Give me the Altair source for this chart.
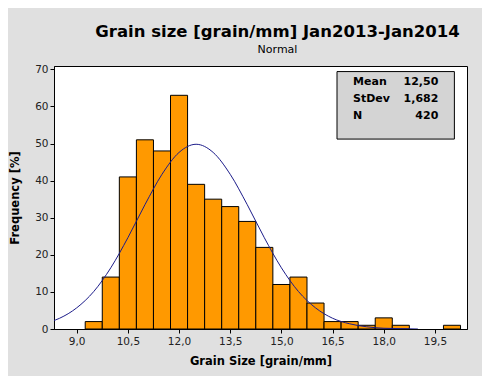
import altair as alt
import pandas as pd

# Histogram bins (centres, width 0.5) and counts
bin_centers = [9.5, 10.0, 10.5, 11.0, 11.5, 12.0, 12.5, 13.0, 13.5, 14.0, 14.5,
               15.0, 15.5, 16.0, 16.5, 17.0, 17.5, 18.0, 18.5, 19.0, 19.5, 20.0]
counts = [2, 14, 41, 51, 48, 63, 39, 35, 33, 29, 22,
          12, 14, 7, 2, 2, 1, 3, 1, 0, 0, 1]

# Fitted normal curve
curve_x = [8.0, 8.5, 9.0, 9.5, 10.0, 10.5, 11.0, 11.5, 12.0, 12.5, 13.0, 13.5,
           14.0, 14.5, 15.0, 15.5, 16.0, 16.5, 17.0, 17.5, 18.0, 18.5, 19.0]
curve_y = [1.4, 2.9, 5.7, 10.1, 16.5, 24.6, 33.5, 41.7, 47.6, 49.8, 47.6, 41.7,
           33.5, 24.6, 16.5, 10.1, 5.7, 2.9, 1.4, 0.6, 0.2, 0.1, 0.0]

x_ticks = [9.0, 10.5, 12.0, 13.5, 15.0, 16.5, 18.0, 19.5]
y_ticks = [0, 10, 20, 30, 40, 50, 60, 70]

stat_names = ["Mean", "StDev", "N"]
stat_values = ["12,50", "1,682", "420"]

FONT = "DejaVu Sans"
XDOM = [8.335, 20.44]
YDOM = [0, 70.9]

bars_df = pd.DataFrame({"center": bin_centers, "count": counts})
bars_df = bars_df[bars_df["count"] > 0]
curve_df = pd.DataFrame({"x": curve_x, "y": curve_y})

xscale = alt.Scale(domain=XDOM, nice=False, zero=False)
yscale = alt.Scale(domain=YDOM, nice=False, zero=True)

xaxis = alt.Axis(values=x_ticks, title="Grain Size [grain/mm]",
                 labelExpr="replace(format(datum.value, '.1f'), '.', ',')",
                 grid=False, tickSize=4, labelPadding=3, titlePadding=9,
                 labelOverlap=False)
yaxis = alt.Axis(values=y_ticks, title="Frequency [%]", grid=False,
                 tickSize=4, labelPadding=2, titlePadding=14,
                 labelOverlap=False, labelFlush=False)


def X(field=None, datum=None):
    if datum is not None:
        return alt.X(datum=datum, type="quantitative", scale=xscale, axis=xaxis)
    return alt.X(field, type="quantitative", scale=xscale, axis=xaxis)


def Y(field=None, datum=None):
    if datum is not None:
        return alt.Y(datum=datum, type="quantitative", scale=yscale, axis=yaxis)
    return alt.Y(field, type="quantitative", scale=yscale, axis=yaxis)


bars = alt.Chart(bars_df).transform_calculate(
    x0="datum.center - 0.25", x1="datum.center + 0.25"
).mark_rect(fill="#FF9900", stroke="black", strokeWidth=1).encode(
    x=X("x0"), x2="x1:Q", y=Y("count"), y2=alt.datum(0),
)

curve = alt.Chart(curve_df).mark_line(
    color="#1c1c8a", strokeWidth=1, interpolate="monotone", clip=True
).encode(x=X("x"), y=Y("y"))

box = alt.Chart(pd.DataFrame({"a": [0]})).mark_rect(
    fill="#d4d4d4", stroke="black", strokeWidth=1
).encode(
    x=X(datum=16.63), x2=alt.datum(20.07),
    y=Y(datum=69.4), y2=alt.datum(51.2),
)

stats_df = pd.DataFrame({"name": stat_names, "value": stat_values})
stats_df["ypos"] = [66.5, 62.0, 57.4]

stat_names_txt = alt.Chart(stats_df).mark_text(
    align="left", baseline="middle", font=FONT, fontSize=11,
    fontWeight="bold", color="black"
).encode(x=X(datum=17.10), y=Y("ypos"), text="name:N")

stat_vals_txt = alt.Chart(stats_df).mark_text(
    align="right", baseline="middle", font=FONT, fontSize=11,
    fontWeight="bold", color="black"
).encode(x=X(datum=19.60), y=Y("ypos"), text="value:N")

chart = alt.layer(bars, curve, box, stat_names_txt, stat_vals_txt).properties(
    width=413, height=263,
    padding={"left": 46, "top": 58, "right": 15, "bottom": 47},
    autosize=alt.AutoSizeParams(type="none"),
    background="#e0e0e0",
    title=alt.TitleParams(
        text="Grain size [grain/mm] Jan2013-Jan2014",
        subtitle="Normal",
        anchor="middle", dx=17,
        font=FONT, fontSize=16.5, fontWeight="bold", color="black",
        subtitleFont=FONT, subtitleFontSize=11, subtitleColor="black",
        subtitlePadding=4, offset=9,
    ),
).configure_view(
    stroke="black", strokeWidth=1, fill="white"
).configure_axis(
    labelFont=FONT, labelFontSize=10.5, labelColor="#222222",
    titleFont=FONT, titleFontSize=11.5, titleFontWeight="bold", titleColor="black",
    domainColor="black", tickColor="black", domainWidth=1, tickWidth=1,
)

chart.save("out.html", embed_options={"renderer": "svg", "actions": False})
